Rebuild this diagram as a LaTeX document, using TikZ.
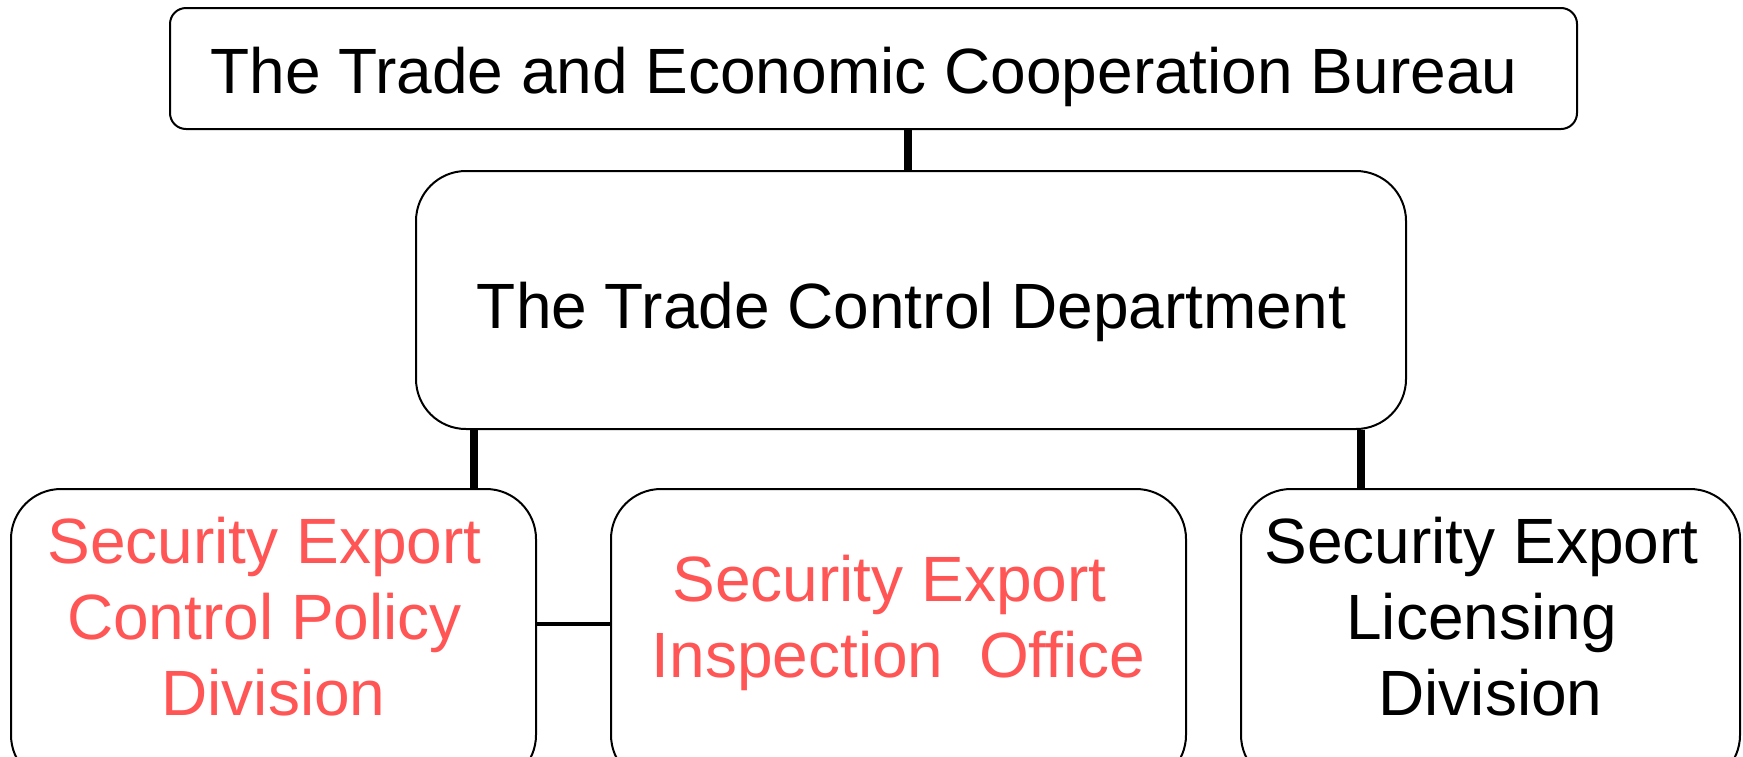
\documentclass[tikz,border=0pt]{standalone}
\usepackage{fontspec}
\setmainfont{Liberation Sans}
\definecolor{redtxt}{RGB}{255,85,85}
\begin{document}
\begin{tikzpicture}[x=0.5pt,y=-0.5pt]
\tikzset{
  box/.style={draw, line width=1pt, fill=white, inner sep=0pt},
  txt/.style={font=\fontsize{32}{38}\selectfont, align=center, inner sep=0pt},
  conn/.style={line width=4pt},
  hconn/.style={line width=2.3pt}
}
\useasboundingbox (0,0) rectangle (1743,756);
\clip (0,0) rectangle (1743,756);
% boxes
\node[box, rounded corners=8pt, minimum width=703.5pt, minimum height=60.5pt] (top) at (873.5,68.5) {};
\node[box, rounded corners=25pt, minimum width=495pt, minimum height=129pt] (mid) at (911,300) {};
\node[box, rounded corners=25pt, minimum width=262.5pt, minimum height=148pt] (l) at (273.5,637) {};
\node[box, rounded corners=25pt, minimum width=287.5pt, minimum height=148pt] (m) at (898.5,637) {};
\node[box, rounded corners=25pt, minimum width=249.5pt, minimum height=148pt] (r) at (1490.5,637) {};
% texts
\node[txt, anchor=base] (tt) at (864,93) {The Trade and Economic Cooperation Bureau};
\node[txt, anchor=base] (mt) at (911.5,328) {The Trade Control Department};
\node[txt, anchor=north, text=redtxt] (lt) at (273.5,517) {Security Export\kern.28em\\Control Policy\kern.28em\\Division};
\node[txt, anchor=north, text=redtxt] (mmt) at (898.5,555) {Security Export\kern.28em\\Inspection\ \ Office};
\node[txt, anchor=north] (rt) at (1490.5,517) {Security Export\kern.28em\\Licensing\kern.28em\\Division};
% connectors
\coordinate (tc) at (908,171);
\coordinate (lc) at (474,489);
\coordinate (rc) at (1361,489);
\coordinate (hc) at (536,624);
\draw[conn] (tc) -- (tc |- top.south);
\draw[conn] (lc) -- (lc |- mid.south);
\draw[conn] (rc) -- (rc |- mid.south);
\draw[hconn] (hc) -- (hc -| m.west);
\end{tikzpicture}
\end{document}
